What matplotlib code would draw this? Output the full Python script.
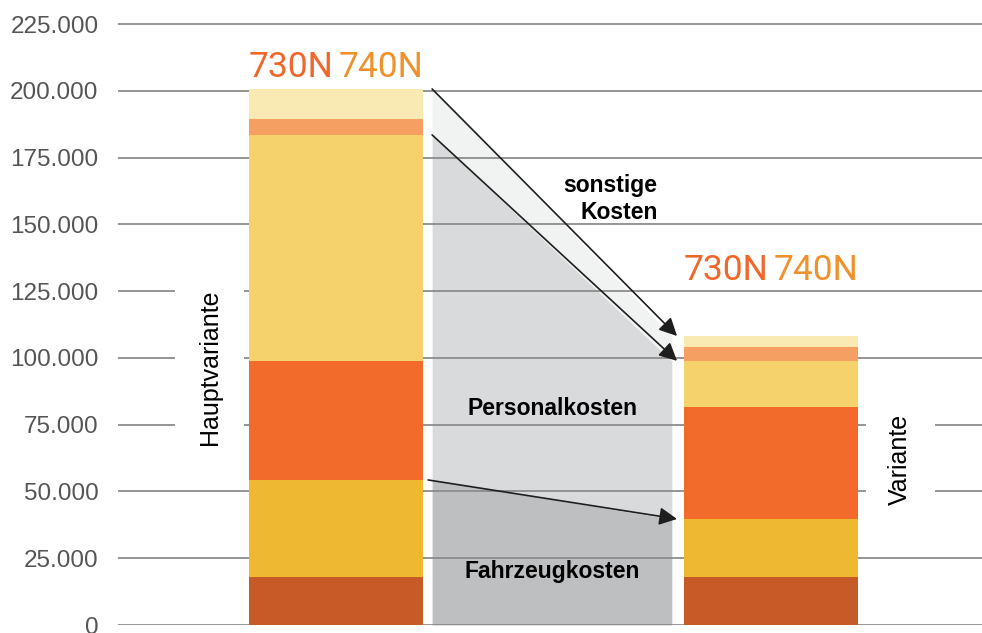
import matplotlib.pyplot as plt

plt.rcParams['font.family'] = ['Liberation Sans', 'DejaVu Sans']

# stacked cost segments (bottom -> top)
segment_colors = ['#C65B27', '#EEB931', '#F26B2A', '#F6D26D', '#F59F63', '#F9EAB4']
haupt_values = [18000, 36300, 44600, 84600, 6000, 11200]
variante_values = [18000, 21700, 41900, 17300, 5200, 4100]

# which segments form which gray transition band
bands = [('Fahrzeugkosten', 0, 2, '#BEBFC1'),
         ('Personalkosten', 2, 4, '#D9DADC'),
         ('sonstige Kosten', 4, 6, '#F1F2F2')]

y_ticks = list(range(0, 225001, 25000))
bar_x = [0, 1]
bar_width = 0.4


def cumulate(vals):
    out = [0]
    for v in vals:
        out.append(out[-1] + v)
    return out


haupt_cum = cumulate(haupt_values)
var_cum = cumulate(variante_values)

fig = plt.figure(figsize=(9.82, 6.33), dpi=100)
ax = fig.add_axes([118 / 982, 8 / 633, 1 - 118 / 982, 625 / 633])
ax.set_xlim(-0.5, 1.486)
ax.set_ylim(0, 234000)

# gray transition bands between the bars
gx0, gx1 = 0.222, 0.773
for name, lo, hi, col in bands:
    ax.fill_between([gx0, gx1], [haupt_cum[lo], var_cum[lo]], [haupt_cum[hi], var_cum[hi]],
                    color=col, lw=0, zorder=1)

# stacked bars
for i in range(len(segment_colors)):
    ax.bar(bar_x[0], haupt_values[i], bar_width, bottom=haupt_cum[i],
           color=segment_colors[i], lw=0, zorder=3)
    ax.bar(bar_x[1], variante_values[i], bar_width, bottom=var_cum[i],
           color=segment_colors[i], lw=0, zorder=3)

# grid + axis
ax.set_axisbelow('line')
ax.yaxis.grid(True, color='#8C8C8C', lw=1.3)
ax.set_yticks(y_ticks)
ax.set_yticklabels(['{:,.0f}'.format(v).replace(',', '.') for v in y_ticks])
ax.tick_params(axis='y', length=0, pad=14, labelsize=17.5, labelcolor='#555555')
ax.set_xticks([])
for s in ax.spines.values():
    s.set_visible(False)

# arrows
arrow_kw = dict(arrowstyle='-|>,head_length=0.6,head_width=0.3', mutation_scale=18,
                color='#1E1E1E', lw=1.2, shrinkA=0, shrinkB=0)
for k, x0 in [(6, 0.222), (4, 0.222), (2, 0.213)]:
    ax.annotate('', xy=(0.785, var_cum[k]), xytext=(x0, haupt_cum[k]),
                arrowprops=arrow_kw, zorder=5)

# band labels
bold = dict(fontsize=16.5, fontweight='bold', color='black', zorder=4)
ax.text(0.74, 159500, 'sonstige\nKosten', ha='right', va='center', ma='right',
        linespacing=1.25, **bold)
ax.text(0.498, 80900, 'Personalkosten', ha='center', va='center', **bold)
ax.text(0.498, 19850, 'Fahrzeugkosten', ha='center', va='center', **bold)

# bar names
box = dict(boxstyle='square,pad=0.9', fc='white', ec='none')
ax.text(-0.289, 96600, 'Hauptvariante', rotation=90, ha='center', va='center',
        fontsize=18, bbox=box, zorder=4)
ax.text(1.298, 61800, 'Variante', rotation=90, ha='center', va='center',
        fontsize=18, bbox=box, zorder=4)

# model labels above the bars
for bx, ylab in [(bar_x[0], 205000), (bar_x[1], 129000)]:
    t1 = ax.text(bx - bar_width / 2, ylab, '730N', color='#F1672B', fontsize=25.5,
                 family='Roboto', va='baseline', ha='left', zorder=4)
    ax.annotate('740N', xy=(1, 0), xycoords=t1, xytext=(4, 0), textcoords='offset points',
                color='#EF922B', fontsize=25.5, family='Roboto', va='bottom', ha='left')

fig.savefig('out.png', dpi=100)
